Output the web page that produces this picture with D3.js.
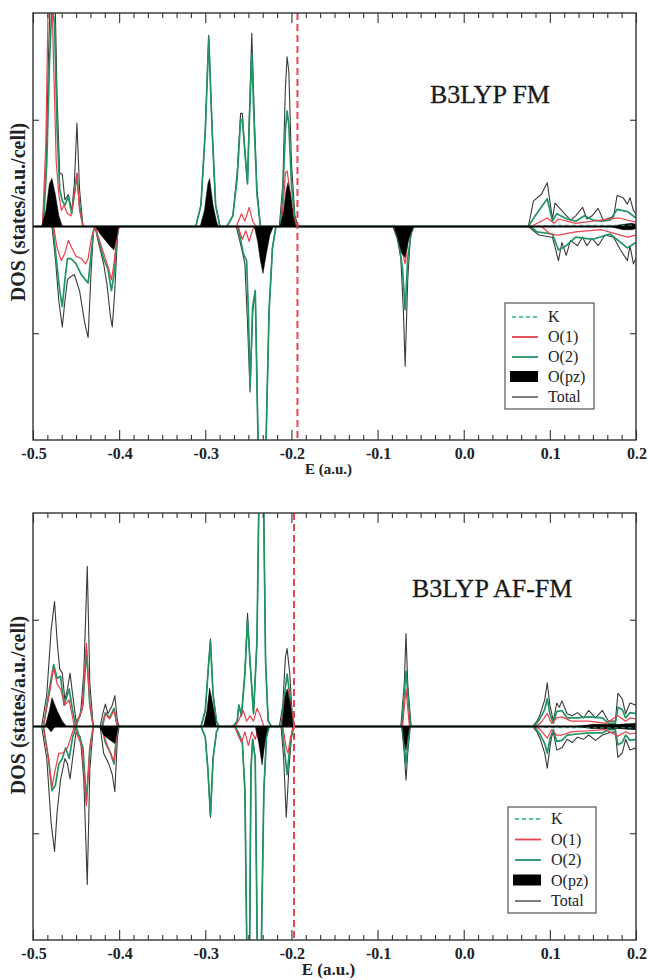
<!DOCTYPE html>
<html><head><meta charset="utf-8">
<script src="https://cdn.jsdelivr.net/npm/d3@7/dist/d3.min.js"></script>
<style>body{margin:0;background:#fff}svg{display:block}</style>
</head><body>
<svg id="c" width="648" height="980"></svg>
<script>
// ---------- DATA ----------
const xTicks = [-0.5,-0.4,-0.3,-0.2,-0.1,0.0,0.1,0.2];
const xTickLabels = ["-0.5","-0.4","-0.3","-0.2","-0.1","0.0","0.1","0.2"];
const yTicks = [-1, 1];
const legendLabels = ["K","O(1)","O(2)","O(pz)","Total"];
const panelTitles = ["B3LYP FM","B3LYP AF-FM"];
const fermiLevels = [-0.193, -0.197];

// Panel 1: B3LYP FM
const fmTotalUp = [[-0.500,0],[-0.489,0],[-0.485,0.5],[-0.482,1.6],[-0.479,2.4],[-0.475,2.4],[-0.472,1.2],[-0.469,0.5],[-0.466,0.49],[-0.463,0.25],[-0.459,0.3],[-0.455,0.15],[-0.452,0.4],[-0.449,0.97],[-0.446,0.35],[-0.442,0],
 [-0.311,0],[-0.305,0.2],[-0.300,0.9],[-0.296,1.79],[-0.292,0.9],[-0.288,0.2],[-0.283,0],
 [-0.275,0],[-0.268,0.1],[-0.263,0.5],[-0.259,1.06],[-0.257,1.06],[-0.254,0.7],[-0.251,0.4],[-0.249,1.0],[-0.246,1.81],[-0.243,1.0],[-0.240,0.35],[-0.236,0],
 [-0.214,0],[-0.210,0.4],[-0.207,1.3],[-0.205,1.59],[-0.203,1.45],[-0.200,0.6],[-0.196,0.1],[-0.192,0],
 [0.075,0],[0.081,0.24],[0.090,0.3],[0.097,0.41],[0.103,0.07],[0.106,0.22],[0.116,0.13],[0.124,0.06],[0.130,0.1],[0.138,0.18],[0.143,0.07],[0.149,0.1],[0.156,0.17],[0.162,0.06],[0.174,0.09],[0.178,0.29],[0.185,0.27],[0.190,0.21],[0.193,0.27],[0.197,0.15],[0.200,0.12]];
const fmO2Up = [[-0.500,0],[-0.488,0],[-0.484,0.6],[-0.481,1.5],[-0.478,2.1],[-0.475,1.9],[-0.472,0.9],[-0.469,0.35],[-0.466,0.24],[-0.463,0.2],[-0.459,0.28],[-0.455,0.12],[-0.452,0.3],[-0.449,0.49],[-0.446,0.2],[-0.442,0],
 [-0.311,0],[-0.305,0.2],[-0.300,0.9],[-0.296,1.77],[-0.292,0.9],[-0.288,0.2],[-0.283,0],
 [-0.275,0],[-0.268,0.1],[-0.263,0.45],[-0.259,1.0],[-0.257,1.0],[-0.254,0.7],[-0.251,0.4],[-0.249,0.95],[-0.246,1.62],[-0.243,0.9],[-0.240,0.3],[-0.236,0],
 [-0.213,0],[-0.210,0.3],[-0.207,0.9],[-0.205,1.08],[-0.203,0.95],[-0.200,0.4],[-0.196,0.05],[-0.192,0],
 [0.075,0],[0.083,0.1],[0.090,0.18],[0.097,0.26],[0.103,0.05],[0.108,0.12],[0.120,0.07],[0.130,0.05],[0.140,0.1],[0.150,0.06],[0.160,0.05],[0.170,0.06],[0.178,0.16],[0.190,0.14],[0.200,0.08]];
const fmO1Up = [[-0.500,0],[-0.489,0],[-0.485,0.8],[-0.482,2.3],[-0.479,2.5],[-0.476,1.5],[-0.473,0.6],[-0.470,0.3],[-0.467,0.15],[-0.464,0.2],[-0.460,0.12],[-0.456,0.1],[-0.452,0.3],[-0.449,0.5],[-0.446,0.15],[-0.442,0],
 [-0.264,0],[-0.258,0.12],[-0.254,0.05],[-0.249,0.18],[-0.245,0.05],[-0.241,0],
 [-0.212,0],[-0.209,0.25],[-0.207,0.5],[-0.205,0.52],[-0.202,0.35],[-0.198,0.1],[-0.194,0],
 [0.078,0],[0.090,0.05],[0.097,0.08],[0.105,0.03],[0.110,0.07],[0.130,0.03],[0.150,0.05],[0.180,0.08],[0.200,0.04]];
const fmPzUp = [[-0.490,0],[-0.485,0.15],[-0.481,0.4],[-0.478,0.45],[-0.474,0.3],[-0.470,0.1],[-0.466,0],
 [-0.306,0],[-0.301,0.15],[-0.297,0.4],[-0.295,0.45],[-0.291,0.2],[-0.287,0.05],[-0.285,0],
 [-0.213,0],[-0.209,0.15],[-0.206,0.35],[-0.204,0.41],[-0.201,0.3],[-0.198,0.1],[-0.195,0],
 [0.170,0],[0.185,0.02],[0.195,0.03],[0.200,0.02]];
const fmTotalDn = [[-0.478,0],[-0.474,-0.3],[-0.470,-0.7],[-0.466,-0.94],[-0.463,-0.7],[-0.460,-0.5],[-0.458,-0.48],[-0.452,-0.45],[-0.446,-0.6],[-0.440,-0.9],[-0.436,-1.04],[-0.433,-0.5],[-0.430,-0.05],[-0.428,0],[-0.424,-0.15],[-0.418,-0.35],[-0.414,-0.55],[-0.410,-0.85],[-0.408,-0.94],[-0.405,-0.6],[-0.402,-0.1],[-0.400,0],
 [-0.264,0],[-0.258,-0.2],[-0.254,-0.35],[-0.251,-0.9],[-0.248,-1.55],[-0.245,-0.8],[-0.242,-0.6],[-0.236,-3.2],[-0.230,-2.2],[-0.226,-0.8],[-0.222,-0.2],[-0.218,0],
 [-0.082,0],[-0.077,-0.12],[-0.073,-0.3],[-0.070,-0.8],[-0.068,-1.31],[-0.065,-0.5],[-0.062,-0.1],[-0.058,0],
 [0.075,0],[0.087,-0.08],[0.103,-0.1],[0.110,-0.32],[0.114,-0.15],[0.119,-0.27],[0.124,-0.13],[0.132,-0.18],[0.138,-0.1],[0.143,-0.18],[0.149,-0.11],[0.156,-0.18],[0.164,-0.08],[0.174,-0.1],[0.182,-0.22],[0.190,-0.32],[0.193,-0.18],[0.197,-0.35],[0.200,-0.3]];
const fmO2Dn = [[-0.477,0],[-0.473,-0.3],[-0.469,-0.6],[-0.466,-0.75],[-0.463,-0.5],[-0.460,-0.3],[-0.456,-0.3],[-0.450,-0.35],[-0.444,-0.45],[-0.439,-0.5],[-0.436,-0.53],[-0.433,-0.3],[-0.430,-0.05],[-0.428,0],[-0.424,-0.12],[-0.418,-0.3],[-0.413,-0.4],[-0.409,-0.6],[-0.406,-0.45],[-0.402,-0.05],[-0.400,0],
 [-0.262,0],[-0.256,-0.25],[-0.252,-0.32],[-0.250,-0.8],[-0.248,-1.5],[-0.245,-0.75],[-0.242,-0.6],[-0.236,-3.2],[-0.230,-2.2],[-0.226,-0.8],[-0.222,-0.2],[-0.218,0],
 [-0.080,0],[-0.075,-0.15],[-0.071,-0.4],[-0.068,-0.78],[-0.065,-0.3],[-0.060,0],
 [0.078,0],[0.085,-0.05],[0.103,-0.07],[0.110,-0.22],[0.119,-0.18],[0.130,-0.1],[0.150,-0.12],[0.170,-0.07],[0.190,-0.2],[0.200,-0.15]];
const fmO1Dn = [[-0.476,0],[-0.472,-0.2],[-0.467,-0.32],[-0.463,-0.25],[-0.459,-0.13],[-0.455,-0.2],[-0.450,-0.28],[-0.444,-0.3],[-0.439,-0.35],[-0.436,-0.3],[-0.432,-0.1],[-0.428,0],[-0.424,-0.1],[-0.418,-0.25],[-0.412,-0.4],[-0.409,-0.5],[-0.406,-0.35],[-0.402,-0.05],[-0.400,0],
 [-0.262,0],[-0.257,-0.12],[-0.253,-0.04],[-0.249,-0.14],[-0.245,-0.03],[-0.242,0],
 [-0.078,0],[-0.072,-0.2],[-0.068,-0.35],[-0.065,-0.15],[-0.060,0],
 [0.090,0],[0.095,-0.03],[0.100,-0.07],[0.110,-0.08],[0.130,-0.05],[0.160,-0.03],[0.190,-0.1],[0.200,-0.08]];
const fmPzDn = [[-0.428,0],[-0.422,-0.07],[-0.416,-0.13],[-0.410,-0.19],[-0.406,-0.22],[-0.403,-0.1],[-0.401,0],
 [-0.243,0],[-0.239,-0.15],[-0.236,-0.32],[-0.233,-0.44],[-0.229,-0.25],[-0.225,-0.08],[-0.221,0],
 [-0.081,0],[-0.076,-0.12],[-0.072,-0.25],[-0.068,-0.29],[-0.064,-0.12],[-0.060,-0.03],[-0.058,0],
 [0.170,0],[0.185,-0.03],[0.195,-0.03],[0.200,-0.02]];
const fmK = [[-0.500,0],[0.080,0],[0.100,0.01],[0.150,0.01],[0.200,0.01]];

// Panel 2: B3LYP AF-FM
const afTotalUp = [[-0.500,0],[-0.490,0],[-0.484,0.3],[-0.479,0.9],[-0.475,1.17],[-0.472,0.8],[-0.469,0.54],[-0.466,0.5],[-0.463,0.25],[-0.460,0.35],[-0.457,0.5],[-0.454,0.3],[-0.450,0.05],[-0.445,0.1],[-0.441,0.5],[-0.437,1.5],[-0.434,0.4],[-0.430,0],[-0.422,0],[-0.419,0.12],[-0.416,0.21],[-0.413,0.12],[-0.408,0.2],[-0.405,0.29],[-0.402,0.05],[-0.400,0],
 [-0.305,0],[-0.300,0.15],[-0.296,0.6],[-0.294,0.82],[-0.291,0.3],[-0.287,0.05],[-0.284,0],
 [-0.268,0],[-0.263,0.05],[-0.261,0.2],[-0.258,0.1],[-0.254,0.5],[-0.251,1.06],[-0.248,0.6],[-0.244,0.12],[-0.240,0.8],[-0.237,2.6],[-0.233,2.6],[-0.230,0.6],[-0.227,0.05],[-0.223,0],
 [-0.214,0],[-0.210,0.2],[-0.207,0.65],[-0.205,0.73],[-0.202,0.5],[-0.199,0.1],[-0.196,0],
 [-0.073,0],[-0.069,0.4],[-0.067,0.87],[-0.065,0.4],[-0.061,0],
 [0.080,0],[0.085,0.05],[0.089,0.12],[0.094,0.25],[0.097,0.41],[0.100,0.2],[0.102,0.13],[0.104,0.05],[0.108,0.22],[0.111,0.18],[0.114,0.24],[0.120,0.12],[0.126,0.1],[0.132,0.13],[0.139,0.08],[0.145,0.15],[0.153,0.08],[0.161,0.15],[0.168,0.05],[0.176,0.05],[0.179,0.31],[0.184,0.26],[0.188,0.12],[0.193,0.22],[0.200,0.2]];
const afO2Up = [[-0.500,0],[-0.488,0],[-0.480,0.4],[-0.476,0.58],[-0.472,0.45],[-0.468,0.47],[-0.464,0.2],[-0.458,0.35],[-0.454,0.15],[-0.450,0],[-0.442,0.2],[-0.438,0.72],[-0.434,0.2],[-0.430,0],[-0.420,0],[-0.416,0.13],[-0.411,0.08],[-0.406,0.17],[-0.402,0],
 [-0.305,0],[-0.300,0.15],[-0.296,0.6],[-0.294,0.8],[-0.291,0.3],[-0.287,0.05],[-0.284,0],
 [-0.268,0],[-0.263,0.05],[-0.261,0.2],[-0.258,0.1],[-0.254,0.5],[-0.251,1.0],[-0.248,0.6],[-0.244,0.12],[-0.240,0.8],[-0.237,2.6],[-0.233,2.6],[-0.230,0.6],[-0.227,0.05],[-0.223,0],
 [-0.212,0],[-0.208,0.3],[-0.205,0.49],[-0.202,0.3],[-0.198,0],
 [-0.072,0],[-0.067,0.52],[-0.062,0],
 [0.082,0],[0.089,0.08],[0.094,0.16],[0.097,0.26],[0.100,0.12],[0.104,0.03],[0.108,0.14],[0.114,0.15],[0.120,0.08],[0.132,0.08],[0.145,0.09],[0.161,0.08],[0.168,0.03],[0.176,0.03],[0.179,0.18],[0.184,0.16],[0.188,0.08],[0.193,0.13],[0.200,0.12]];
const afO1Up = [[-0.500,0],[-0.488,0],[-0.480,0.35],[-0.476,0.55],[-0.472,0.4],[-0.468,0.35],[-0.463,0.2],[-0.458,0.25],[-0.452,0],[-0.443,0.15],[-0.438,0.78],[-0.434,0.2],[-0.430,0],[-0.419,0],[-0.416,0.12],[-0.411,0.07],[-0.406,0.15],[-0.402,0],
 [-0.265,0],[-0.260,0.08],[-0.256,0.15],[-0.252,0.05],[-0.248,0.1],[-0.244,0.05],[-0.240,0.17],[-0.236,0.1],[-0.232,0],
 [-0.211,0],[-0.207,0.25],[-0.204,0.35],[-0.200,0.15],[-0.197,0],
 [-0.071,0],[-0.067,0.35],[-0.063,0],
 [0.084,0],[0.090,0.04],[0.097,0.12],[0.102,0.03],[0.108,0.08],[0.114,0.09],[0.125,0.05],[0.145,0.05],[0.165,0.03],[0.179,0.1],[0.188,0.05],[0.193,0.08],[0.200,0.07]];
const afPzUp = [[-0.486,0],[-0.481,0.15],[-0.478,0.27],[-0.472,0.15],[-0.466,0.05],[-0.461,0],
 [-0.302,0],[-0.298,0.15],[-0.295,0.36],[-0.291,0.2],[-0.287,0],
 [-0.211,0],[-0.207,0.3],[-0.205,0.35],[-0.201,0.2],[-0.198,0],
 [0.130,0],[0.150,0.02],[0.180,0.02],[0.200,0.03]];
const afTotalDn = [[-0.490,0],[-0.484,-0.3],[-0.479,-0.9],[-0.475,-1.17],[-0.472,-0.8],[-0.468,-0.5],[-0.463,-0.3],[-0.460,-0.35],[-0.457,-0.49],[-0.454,-0.3],[-0.450,-0.05],[-0.445,-0.1],[-0.441,-0.5],[-0.437,-1.48],[-0.434,-0.4],[-0.430,0],[-0.422,0],[-0.418,-0.25],[-0.412,-0.35],[-0.408,-0.45],[-0.405,-0.61],[-0.402,-0.1],[-0.400,0],
 [-0.305,0],[-0.300,-0.1],[-0.297,-0.4],[-0.294,-0.85],[-0.291,-0.3],[-0.287,-0.05],[-0.284,0],
 [-0.266,0],[-0.262,-0.05],[-0.257,-0.15],[-0.254,-0.6],[-0.251,-2.6],[-0.249,-2.6],[-0.247,-0.4],[-0.245,-0.12],[-0.242,-0.3],[-0.239,-2.6],[-0.236,-2.6],[-0.232,-0.6],[-0.229,-0.1],[-0.226,0],
 [-0.212,0],[-0.209,-0.3],[-0.206,-0.85],[-0.203,-0.4],[-0.200,-0.1],[-0.197,0],
 [-0.072,0],[-0.069,-0.25],[-0.067,-0.5],[-0.065,-0.25],[-0.062,0],
 [0.080,0],[0.085,-0.05],[0.089,-0.12],[0.094,-0.25],[0.097,-0.39],[0.100,-0.2],[0.102,-0.1],[0.104,-0.05],[0.108,-0.22],[0.114,-0.2],[0.120,-0.12],[0.126,-0.15],[0.132,-0.1],[0.139,-0.12],[0.145,-0.08],[0.153,-0.13],[0.161,-0.08],[0.168,-0.06],[0.176,-0.05],[0.179,-0.29],[0.184,-0.25],[0.188,-0.12],[0.193,-0.22],[0.200,-0.2]];
const afO2Dn = [[-0.488,0],[-0.482,-0.3],[-0.478,-0.6],[-0.474,-0.55],[-0.470,-0.35],[-0.466,-0.3],[-0.462,-0.2],[-0.458,-0.3],[-0.454,-0.1],[-0.450,0],[-0.442,-0.2],[-0.438,-0.7],[-0.434,-0.2],[-0.430,0],[-0.420,0],[-0.416,-0.15],[-0.410,-0.25],[-0.406,-0.35],[-0.402,0],
 [-0.305,0],[-0.300,-0.1],[-0.297,-0.4],[-0.294,-0.83],[-0.291,-0.3],[-0.287,-0.05],[-0.284,0],
 [-0.266,0],[-0.262,-0.05],[-0.257,-0.15],[-0.254,-0.6],[-0.251,-2.6],[-0.249,-2.6],[-0.247,-0.4],[-0.245,-0.12],[-0.242,-0.3],[-0.239,-2.6],[-0.236,-2.6],[-0.232,-0.6],[-0.229,-0.1],[-0.226,0],
 [-0.211,0],[-0.207,-0.3],[-0.205,-0.45],[-0.202,-0.2],[-0.198,0],
 [-0.071,0],[-0.067,-0.35],[-0.063,0],
 [0.082,0],[0.089,-0.08],[0.094,-0.16],[0.097,-0.25],[0.100,-0.12],[0.104,-0.03],[0.108,-0.14],[0.114,-0.13],[0.120,-0.08],[0.132,-0.07],[0.145,-0.06],[0.161,-0.06],[0.168,-0.03],[0.176,-0.03],[0.179,-0.17],[0.184,-0.15],[0.188,-0.08],[0.193,-0.13],[0.200,-0.12]];
const afO1Dn = [[-0.488,0],[-0.482,-0.3],[-0.478,-0.57],[-0.474,-0.4],[-0.470,-0.25],[-0.465,-0.25],[-0.460,-0.2],[-0.456,-0.1],[-0.452,0],[-0.443,-0.2],[-0.438,-0.74],[-0.434,-0.2],[-0.430,0],[-0.420,0],[-0.415,-0.15],[-0.410,-0.25],[-0.406,-0.33],[-0.402,0],
 [-0.266,0],[-0.262,-0.08],[-0.258,-0.15],[-0.254,-0.05],[-0.250,-0.18],[-0.246,-0.05],[-0.242,-0.12],[-0.238,0],
 [-0.210,0],[-0.206,-0.2],[-0.204,-0.25],[-0.201,-0.1],[-0.198,0],
 [0.084,0],[0.090,-0.04],[0.097,-0.11],[0.102,-0.03],[0.108,-0.08],[0.114,-0.08],[0.125,-0.05],[0.145,-0.04],[0.165,-0.03],[0.179,-0.09],[0.188,-0.05],[0.193,-0.07],[0.200,-0.06]];
const afPzDn = [[-0.484,0],[-0.479,-0.05],[-0.474,0],
 [-0.423,0],[-0.418,-0.08],[-0.412,-0.12],[-0.405,-0.16],[-0.401,0],
 [-0.242,0],[-0.238,-0.15],[-0.234,-0.36],[-0.230,-0.1],[-0.227,0],
 [-0.071,0],[-0.069,-0.15],[-0.067,-0.22],[-0.065,-0.1],[-0.063,0],
 [0.130,0],[0.150,-0.02],[0.180,-0.02],[0.200,-0.03]];
const afK = [[-0.500,0],[0.080,0],[0.100,-0.01],[0.150,-0.01],[0.200,-0.01]];

// ---------- DRAW ----------
const svg = d3.select("#c");
const FONT = "'Liberation Serif','Times New Roman',serif";
const COL = {total:"#3a3a3a", o2:"#1f9563", o1:"#e8404c", k:"#56c7ad", pz:"#000"};

const panels = [
  {top:13, bottom:440, title:panelTitles[0], tx:430, ty:103, fermi:fermiLevels[0],
   tickY:459, labY:474, labSize:15, yLabC:212,
   leg:{x:505,y:303,w:89,h:106,y0:322,dy:20},
   series:{tu:fmTotalUp,td:fmTotalDn,o2u:fmO2Up,o2d:fmO2Dn,o1u:fmO1Up,o1d:fmO1Dn,pu:fmPzUp,pd:fmPzDn,k:fmK}},
  {top:513, bottom:940, title:panelTitles[1], tx:412, ty:597, fermi:fermiLevels[1],
   tickY:959, labY:975, labSize:17, yLabC:705,
   leg:{x:508,y:807,w:88,h:106,y0:824,dy:20.5},
   series:{tu:afTotalUp,td:afTotalDn,o2u:afO2Up,o2d:afO2Dn,o1u:afO1Up,o1d:afO1Dn,pu:afPzUp,pd:afPzDn,k:afK}}
];

const L = 33, R = 636;
panels.forEach((p, i) => {
  const x = d3.scaleLinear().domain([-0.5, 0.2]).range([L, R]);
  const y = d3.scaleLinear().domain([-2, 2]).range([p.bottom, p.top]);
  const g = svg.append("g");
  const cid = "clip" + i;
  svg.append("clipPath").attr("id", cid).append("rect")
    .attr("x", L).attr("y", p.top).attr("width", R - L).attr("height", p.bottom - p.top);
  const plot = g.append("g").attr("clip-path", `url(#${cid})`);
  const line = d3.line().x(d => x(d[0])).y(d => y(d[1]));
  const area = d3.area().x(d => x(d[0])).y0(y(0)).y1(d => y(d[1]));
  const s = p.series;

  [s.tu, s.td].forEach(d => plot.append("path").attr("d", line(d)).attr("fill","none")
    .attr("stroke", COL.total).attr("stroke-width", 1.1).attr("stroke-linejoin","round"));
  [s.o2u, s.o2d].forEach(d => plot.append("path").attr("d", line(d)).attr("fill","none")
    .attr("stroke", COL.o2).attr("stroke-width", 1.7).attr("stroke-linejoin","round"));
  [s.o1u, s.o1d].forEach(d => plot.append("path").attr("d", line(d)).attr("fill","none")
    .attr("stroke", COL.o1).attr("stroke-width", 1.2).attr("stroke-linejoin","round"));
  [s.pu, s.pd].forEach(d => plot.append("path").attr("d", area(d)).attr("fill", COL.pz).attr("stroke","#000").attr("stroke-width",0.5));
  plot.append("path").attr("d", line(s.k)).attr("fill","none").attr("stroke", COL.k)
    .attr("stroke-width", 1.2).attr("stroke-dasharray","4,3");

  g.append("line").attr("x1", L).attr("x2", R).attr("y1", y(0)).attr("y2", y(0))
    .attr("stroke","#000").attr("stroke-width", 2.2);

  g.append("line").attr("x1", x(p.fermi)).attr("x2", x(p.fermi)).attr("y1", p.top).attr("y2", p.bottom)
    .attr("stroke", "#e8434f").attr("stroke-width", 2).attr("stroke-dasharray","7,4");

  g.append("rect").attr("x", L).attr("y", p.top).attr("width", R - L).attr("height", p.bottom - p.top)
    .attr("fill","none").attr("stroke","#333").attr("stroke-width",1.4);

  const minor = [];
  for (let k = 0; k < 7; k++) for (let m = 1; m < 6; m++) minor.push(xTicks[k] + m * 0.1 / 6);
  const axB = d3.axisBottom(x).tickValues(xTicks).tickSize(-10).tickFormat("");
  const axBm = d3.axisBottom(x).tickValues(minor).tickSize(-5).tickFormat("");
  const axT = d3.axisTop(x).tickValues(xTicks).tickSize(-10).tickFormat("");
  const axTm = d3.axisTop(x).tickValues(minor).tickSize(-5).tickFormat("");
  [[axB, p.bottom],[axBm, p.bottom],[axT, p.top],[axTm, p.top]].forEach(([a, yy]) => {
    const ag = g.append("g").attr("transform", `translate(0,${yy})`).call(a);
    ag.select(".domain").remove();
    ag.selectAll("line").attr("stroke","#333").attr("stroke-width",1.1);
  });
  const axL = d3.axisLeft(y).tickValues(yTicks).tickSize(-6).tickFormat("");
  const axR = d3.axisRight(y).tickValues(yTicks).tickSize(-6).tickFormat("");
  [[axL, L],[axR, R]].forEach(([a, xx]) => {
    const ag = g.append("g").attr("transform", `translate(${xx},0)`).call(a);
    ag.select(".domain").remove();
    ag.selectAll("line").attr("stroke","#333").attr("stroke-width",1.1);
  });

  g.selectAll(".tl").data(xTicks).enter().append("text")
    .attr("x", d => x(d) + 1).attr("y", p.tickY).attr("text-anchor","middle")
    .attr("font-family", FONT).attr("font-weight","bold").attr("font-size", 16).attr("fill","#222")
    .text((d, j) => xTickLabels[j]);

  g.append("text").attr("x", x(-0.2) + 37).attr("y", p.labY).attr("text-anchor","middle")
    .attr("font-family", FONT).attr("font-weight","bold").attr("font-size", p.labSize).attr("fill","#222")
    .text("E (a.u.)");
  g.append("text").attr("transform", `translate(25,${p.yLabC}) rotate(-90)`).attr("text-anchor","middle")
    .attr("font-family", FONT).attr("font-weight","bold").attr("font-size", 20).attr("fill","#222")
    .text("DOS (states/a.u./cell)");

  g.append("text").attr("x", p.tx).attr("y", p.ty).attr("font-family", FONT)
    .attr("font-size", 26).attr("fill","#1a1a1a").attr("stroke","#1a1a1a").attr("stroke-width",0.3).text(p.title);

  const lg = g.append("g");
  lg.append("rect").attr("x", p.leg.x).attr("y", p.leg.y).attr("width", p.leg.w).attr("height", p.leg.h)
    .attr("fill","#fff").attr("stroke","#555").attr("stroke-width",1.2);
  legendLabels.forEach((lab, j) => {
    const yy = p.leg.y0 + j * p.leg.dy;
    const sx = p.leg.x + 7, ex = p.leg.x + 33;
    if (lab === "O(pz)") {
      lg.append("rect").attr("x", sx - 2).attr("y", yy - 11).attr("width", ex - sx + 2).attr("height", 11).attr("fill","#000");
    } else {
      const c = lab === "K" ? COL.k : lab === "O(1)" ? COL.o1 : lab === "O(2)" ? COL.o2 : COL.total;
      lg.append("line").attr("x1", sx).attr("x2", ex).attr("y1", yy - 5).attr("y2", yy - 5)
        .attr("stroke", c).attr("stroke-width", lab === "Total" ? 1.3 : 1.8)
        .attr("stroke-dasharray", lab === "K" ? "4,3" : null);
    }
    lg.append("text").attr("x", p.leg.x + 43).attr("y", yy).attr("font-family", FONT)
      .attr("font-size", 16).attr("fill","#222").text(lab);
  });
});
</script>
</body></html>
